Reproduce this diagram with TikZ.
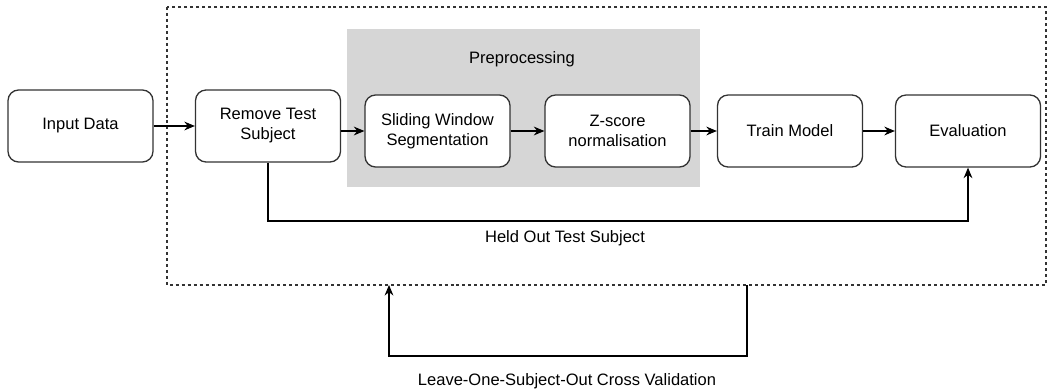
\documentclass[tikz,border=0pt]{standalone}
\usepackage{fontspec}
\setmainfont{Liberation Sans}
\usetikzlibrary{arrows.meta}
\definecolor{prepgray}{HTML}{D6D6D6}
\definecolor{boxline}{HTML}{333333}

\begin{document}
\begin{tikzpicture}[
    x=0.02cm, y=-0.02cm,
    font=\fontsize{9.4}{11.4}\selectfont,
    stage/.style={draw=boxline, line width=0.75pt, rounded corners=6pt, fill=white,
        minimum width=2.9cm, minimum height=1.44cm, align=center},
    arr/.style={-{Stealth[length=6pt,width=5pt]}, line width=0.6pt},
    frame/.style={draw=boxline, dash pattern=on 1.7pt off 1.7pt, line width=0.6pt}
]
\useasboundingbox (0,0) rectangle (1048,392);

% cross-validation fold and preprocessing block
\draw[frame] (167,7) rectangle (1046,285);
\fill[prepgray] (347,29) rectangle (700,187);
\node (prep) at (522,59) {Preprocessing};

% pipeline stages
\node[stage] (input)  at (80.5,126) {Input Data};
\node[stage] (remove) at (268,126)  {Remove Test\\Subject};
\node[stage] (slide)  at (437.5,131) {Sliding Window\\Segmentation};
\node[stage] (zscore) at (617.5,131) {Z-score\\normalisation};
\node[stage] (train)  at (790,131)  {Train Model};
\node[stage] (eval)   at (968,131)  {Evaluation};

\draw[arr] (input) -- (remove);
\draw[arr] (remove.east |- slide.west) -- (slide.west);
\draw[arr] (slide) -- (zscore);
\draw[arr] (zscore) -- (train);
\draw[arr] (train) -- (eval);

% held out subject goes straight to evaluation
\coordinate (hold) at (565,221);
\draw[arr] (remove.south) |- (hold) -| (eval.south);
\node (holdlbl) at (565,238) {Held Out Test Subject};

% repeat for every subject
\coordinate (loopR) at (747,285);
\coordinate (loopL) at (389,285);
\draw[arr] (loopR) -- ++(0,71) -| (loopL);
\node (looplbl) at (567,381) {Leave-One-Subject-Out Cross Validation};
\end{tikzpicture}
\end{document}
